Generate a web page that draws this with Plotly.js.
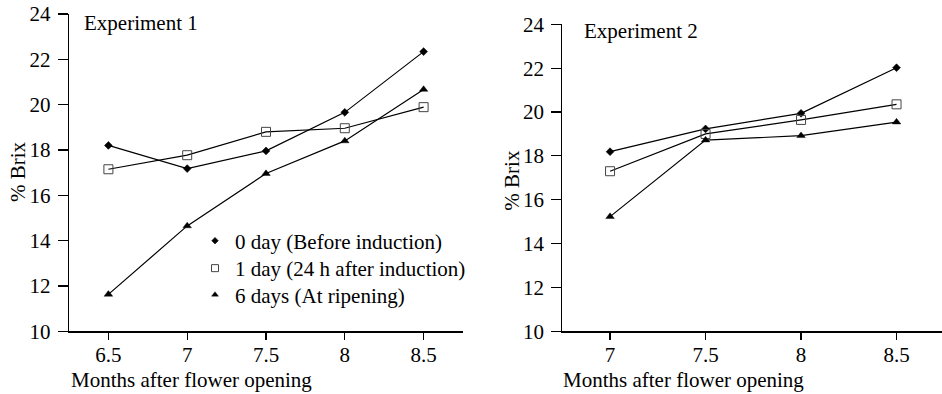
<!DOCTYPE html>
<html>
<head>
<meta charset="utf-8">
<script src="https://cdn.plot.ly/plotly-3.0.1.min.js"></script>
<style>
  html, body { margin: 0; padding: 0; background: #fff; }
  #chart { width: 942px; height: 394px; }
</style>
</head>
<body>
<div id="chart"></div>
<script>
// Months after flower opening
const monthsExp1 = [6.5, 7, 7.5, 8, 8.5];
const monthsExp2 = [7, 7.5, 8, 8.5];

// % Brix, Experiment 1
const exp1Day0 = [18.2, 17.18, 17.96, 19.66, 22.34];
const exp1Day1 = [17.15, 17.77, 18.8, 18.96, 19.89];
const exp1Day6 = [11.63, 14.65, 16.96, 18.4, 20.67];

// % Brix, Experiment 2
const exp2Day0 = [18.19, 19.23, 19.94, 22.02];
const exp2Day1 = [17.3, 19.0, 19.64, 20.35];
const exp2Day6 = [15.23, 18.72, 18.92, 19.54];

const seriesNames = [
  '0 day (Before induction)',
  '1 day (24 h after induction)',
  '6 days (At ripening)'
];

const yTicks = [10, 12, 14, 16, 18, 20, 22, 24];
const xTicks1 = [6.5, 7, 7.5, 8, 8.5];
const xTickText1 = ['6.5', '7', '7.5', '8', '8.5'];
const xTicks2 = [7, 7.5, 8, 8.5];
const xTickText2 = ['7', '7.5', '8', '8.5'];

const FONT = 'Liberation Serif';
const W = 942, H = 394;

const markerStyles = [
  { symbol: 'diamond', size: 6, color: '#000', line: { width: 0.6, color: '#000' } },
  { symbol: 'square-open', size: 9, color: '#444', line: { width: 1, color: '#444' } },
  { symbol: 'triangle-up', size: 7.5, color: '#000', line: { width: 0.4, color: '#000' } }
];

function series(x, y, k, xa, ya) {
  return {
    x: x, y: y, xaxis: xa, yaxis: ya,
    type: 'scatter', mode: 'lines+markers',
    line: { color: '#000', width: 1.2 },
    marker: markerStyles[k],
    showlegend: false, hoverinfo: 'skip', cliponaxis: false
  };
}

const traces = [
  series(monthsExp1, exp1Day0, 0, 'x', 'y'),
  series(monthsExp1, exp1Day1, 1, 'x', 'y'),
  series(monthsExp1, exp1Day6, 2, 'x', 'y'),
  series(monthsExp2, exp2Day0, 0, 'x2', 'y2'),
  series(monthsExp2, exp2Day1, 1, 'x2', 'y2'),
  series(monthsExp2, exp2Day6, 2, 'x2', 'y2')
];

// Legend entries (marker only), one legend per row so rows sit close together
const legendSizes = [5, 7, 6];
const legendIds = ['legend', 'legend2', 'legend3'];
const legendRowsY = [241, 268.5, 295];
seriesNames.forEach(function (name, k) {
  traces.push({
    x: [null], y: [null], xaxis: 'x', yaxis: 'y',
    type: 'scatter', mode: 'markers', name: name,
    marker: Object.assign({}, markerStyles[k], { size: legendSizes[k] }),
    showlegend: true, legend: legendIds[k], hoverinfo: 'skip'
  });
});

function xAxis(range, domain, vals, text, anchor) {
  return {
    domain: domain, range: range, anchor: anchor,
    tickvals: vals, ticktext: text,
    ticks: 'outside', ticklen: 7, tickwidth: 1.2, tickcolor: '#000',
    ticklabelstandoff: -3,
    showline: true, linecolor: '#000', linewidth: 1.2,
    showgrid: false, zeroline: false, fixedrange: true,
    tickfont: { family: FONT, size: 21, color: '#000' }
  };
}
function yAxis(domain, anchor) {
  return {
    domain: domain, range: [10, 24], anchor: anchor,
    tickvals: yTicks,
    ticks: 'outside', ticklen: 10, tickwidth: 1.2, tickcolor: '#000',
    ticklabelstandoff: 3,
    showline: true, linecolor: '#000', linewidth: 1.2,
    showgrid: false, zeroline: false, fixedrange: true,
    tickfont: { family: FONT, size: 21, color: '#000' }
  };
}

function txt(text, px, py, opts) {
  return Object.assign({
    text: text, xref: 'paper', yref: 'paper',
    x: px / W, y: 1 - py / H,
    xanchor: 'left', yanchor: 'middle', showarrow: false,
    font: { family: FONT, size: 21, color: '#000' }
  }, opts || {});
}

function legendBox(row) {
  return {
    x: 195 / W, y: 1 - legendRowsY[row] / H, xanchor: 'left', yanchor: 'middle',
    bgcolor: 'rgba(0,0,0,0)', borderwidth: 0,
    font: { family: FONT, size: 21, color: '#000' },
    itemclick: false, itemdoubleclick: false
  };
}

const layout = {
  width: W, height: H,
  margin: { l: 0, r: 0, t: 0, b: 0 },
  paper_bgcolor: '#fff', plot_bgcolor: 'rgba(0,0,0,0)',
  font: { family: FONT, size: 21, color: '#000' },
  xaxis: xAxis([6.25, 8.75], [69 / W, 463 / W], xTicks1, xTickText1, 'y'),
  yaxis: yAxis([1 - 331.3 / H, 1 - 14 / H], 'x'),
  xaxis2: xAxis([6.75, 8.738], [562.3 / W, 1], xTicks2, xTickText2, 'y2'),
  yaxis2: yAxis([1 - 331.3 / H, 1 - 24.3 / H], 'x2'),
  showlegend: true,
  legend: legendBox(0),
  legend2: legendBox(1),
  legend3: legendBox(2),
  annotations: [
    txt('Experiment 1', 82, 23),
    txt('Experiment 2', 582, 31),
    txt('Months after flower opening', 69, 380),
    txt('Months after flower opening', 561, 380),
    txt('% Brix', 18, 172, { xanchor: 'center', textangle: -90 }),
    txt('% Brix', 511.7, 180, { xanchor: 'center', textangle: -90 })
  ]
};

Plotly.newPlot('chart', traces, layout, { displayModeBar: false, staticPlot: true });
</script>
</body>
</html>
